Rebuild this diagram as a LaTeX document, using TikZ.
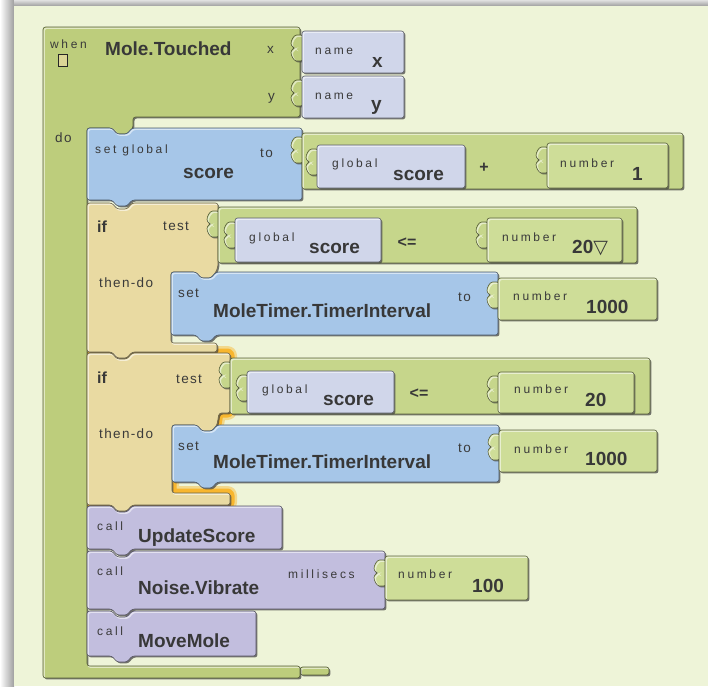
\documentclass[tikz,border=0pt]{standalone}
\usepackage{fontspec}
\setmainfont{Liberation Sans}
\newfontfamily\lblfont{Liberation Sans}[LetterSpace=22]
\newfontfamily\kwfont{Liberation Sans}[LetterSpace=10]
\newfontfamily\symfont{DejaVu Sans}

\definecolor{panel}{RGB}{238,244,216}
\definecolor{evgreen}{RGB}{189,205,124}
\definecolor{opgreen}{RGB}{198,214,139}
\definecolor{numgreen}{RGB}{206,221,152}
\definecolor{lav}{RGB}{208,214,234}
\definecolor{setblue}{RGB}{166,198,232}
\definecolor{iftan}{RGB}{233,218,162}
\definecolor{callpur}{RGB}{194,190,222}
\definecolor{hilite}{RGB}{248,182,46}
\definecolor{txtdark}{RGB}{56,56,56}
\definecolor{txtgray}{RGB}{58,58,58}
\definecolor{shadowc}{RGB}{60,60,60}

% a bevelled block: drop shadow, fill, inner highlight, outline
\newcommand\blk[2]{%
  \fill[shadowc,opacity=.7,shift={(1.4,1.4)}] #2;
  \fill[#1] #2;
  \begin{scope}
    \clip #2;
    \draw[white,opacity=.55,line width=1.5,shift={(1.2,1.2)}] #2;
  \end{scope}
  \draw[#1!45!black,line width=.6] #2;
}
% statement block with top notch and bottom tab: colour, left, top, right, bottom
\newcommand\stmt[5]{\blk{#1}{(#2,#3) -- (#2+25,#3) -- (#2+30,#3+6) -- (#2+40,#3+6) -- (#2+45,#3) -- (#4,#3) -- (#4,#5) -- (#2+45,#5) -- (#2+40,#5+6) -- (#2+30,#5+6) -- (#2+25,#5) -- (#2,#5) -- cycle}}
% plain value block: colour, left, top, right, bottom
\newcommand\valblk[5]{\blk{#1}{(#2,#3) -- (#4,#3) -- (#4,#5) -- (#2,#5) -- cycle}}
% jigsaw plug on the left edge of a value block: colour, x, middle y
\newcommand\plugtab[3]{\blk{#1}{(#2+1,#3-13) -- (#2-3,#3-13) .. controls (#2-8,#3-13) and (#2-11,#3-8) .. (#2-11,#3-2) -- (#2-7,#3) -- (#2-11,#3+2) .. controls (#2-11,#3+8) and (#2-8,#3+13) .. (#2-3,#3+13) -- (#2+1,#3+13) -- cycle}}

\begin{document}
\begin{tikzpicture}[x=1pt,y=-1pt,
  lbl/.style={font=\lblfont\fontsize{12}{14}\selectfont,text=txtgray,anchor=base west,inner sep=0pt},
  kw/.style={font=\kwfont\fontsize{13.5}{15}\selectfont,text=txtgray,anchor=base west,inner sep=0pt},
  big/.style={font=\bfseries\fontsize{19}{21}\selectfont,text=txtdark,anchor=base west,inner sep=0pt},
  iflbl/.style={font=\bfseries\fontsize{16}{18}\selectfont,text=txtdark,anchor=base west,inner sep=0pt},
  op/.style={font=\bfseries\fontsize{16}{18}\selectfont,text=txtdark,inner sep=0pt}]
\useasboundingbox (0,0) rectangle (708,686);

% workspace with its frame shadow
\fill[white] (0,0) rectangle (708,686);
\shade[left color=white,right color=black!38] (0,0) rectangle (14,686);
\shade[top color=black!12,bottom color=black!38] (14,0) rectangle (708,6);
\fill[panel] (14,6) rectangle (708,686);

\begin{scope}[rounded corners=2.5pt]
% selection glow round the second if block
\draw[hilite,opacity=.45,line width=14,line join=round] (87,353) -- (230,353) -- (230,413) -- (219,413) -- (217,425) -- (172,425) -- (172,493) -- (230,493) -- (230,505) -- (87,505) -- cycle;
\draw[hilite,line width=9,line join=round] (87,353) -- (230,353) -- (230,413) -- (219,413) -- (217,425) -- (172,425) -- (172,493) -- (230,493) -- (230,505) -- (87,505) -- cycle;

% event block
\blk{evgreen}{(300,667) -- (329,667) -- (329,675) -- (300,675) -- cycle}
\blk{evgreen}{(43,27) -- (300,27) -- (300,117) -- (133,117) -- (133,128) -- (127,134) -- (117,134) -- (112,128) -- (87,128) -- (87,666) -- (300,666) -- (300,678) -- (43,678) -- cycle}
\draw[black!85,fill=iftan!70!evgreen,line width=.8,sharp corners] (58,54) rectangle (67,66);

% parameters
\plugtab{evgreen}{302}{48}
\valblk{lav}{302}{31}{404}{73}
\plugtab{evgreen}{302}{93}
\valblk{lav}{302}{76}{404}{118}

% set global score to score + 1
\stmt{setblue}{87}{128}{302}{200}
\plugtab{opgreen}{302}{150}
\valblk{opgreen}{302}{133}{683}{189}
\plugtab{opgreen}{317}{162}
\valblk{lav}{317}{145}{465}{188}
\plugtab{opgreen}{547}{160}
\valblk{numgreen}{547}{143}{668}{188}

% first if
\blk{iftan}{(87,203) -- (112,203) -- (117,209) -- (127,209) -- (132,203) -- (218,203) -- (218,266) -- (216,272) -- (211,278) -- (201,278) -- (196,272) -- (171,272) -- (171,343) -- (217,343) -- (217,352) -- (132,352) -- (127,358) -- (117,358) -- (112,352) -- (87,352) -- cycle}
\plugtab{opgreen}{218}{224}
\valblk{opgreen}{218}{207}{637}{263}
\plugtab{opgreen}{235}{235}
\valblk{lav}{235}{218}{381}{262}
\plugtab{opgreen}{487}{235}
\valblk{numgreen}{487}{218}{622}{262}
\stmt{setblue}{171}{272}{498}{335}
\plugtab{numgreen}{498}{295}
\valblk{numgreen}{498}{278}{657}{320}

% second if
\blk{iftan}{(87,353) -- (112,353) -- (117,359) -- (127,359) -- (132,353) -- (230,353) -- (230,413) -- (219,413) -- (217,425) -- (212,431) -- (202,431) -- (197,425) -- (172,425) -- (172,493) -- (230,493) -- (230,505) -- (132,505) -- (127,511) -- (117,511) -- (112,505) -- (87,505) -- cycle}
\plugtab{opgreen}{230}{375}
\valblk{opgreen}{230}{358}{650}{414}
\plugtab{opgreen}{247}{388}
\valblk{lav}{247}{371}{394}{413}
\plugtab{opgreen}{498}{389}
\valblk{numgreen}{498}{372}{634}{413}
\stmt{setblue}{172}{425}{499}{482}
\plugtab{numgreen}{499}{447}
\valblk{numgreen}{499}{430}{657}{472}

% procedure calls
\stmt{callpur}{87}{506}{282}{549}
\stmt{callpur}{87}{551}{385}{609}
\plugtab{numgreen}{385}{573}
\valblk{numgreen}{385}{556}{528}{600}
\stmt{callpur}{87}{611}{256}{656}
\end{scope}

% texts
\node[lbl] (whenlbl) at (50,48) {when};
\node[big] (evname) at (105,55) {Mole.Touched};
\node[kw] (xarg) at (267,53) {x};
\node[kw] (yarg) at (268,100) {y};
\node[lbl] (namea) at (315,54) {name};
\node[big] (xval) at (372,67) {x};
\node[lbl] (nameb) at (315,99) {name};
\node[big] (yval) at (371,110) {y};
\node[kw] (dolbl) at (55,142) {do};

\node[lbl] (setglob) at (95,153) {set global};
\node[big] (scorea) at (183,178) {score};
\node[kw] (toa) at (260,157) {to};
\node[lbl] (globa) at (332,167) {global};
\node[big] (scoreb) at (393,180) {score};
\node[op] (plus) at (484,168) {+};
\node[lbl] (numa) at (560,167) {number};
\node[big] (one) at (632,180) {1};

\node[iflbl] (ifa) at (97,232) {if};
\node[kw] (testa) at (163,230) {test};
\node[kw] (thena) at (99,287) {then-do};
\node[lbl] (globb) at (249,241) {global};
\node[big] (scorec) at (309,253) {score};
\node[op] (lea) at (407,243) {<=};
\node[lbl] (numb) at (502,241) {number};
\node[big] (twentya) at (572,253) {20{\symfont\mdseries ▽}};
\node[kw] (seta) at (178,297) {set};
\node[big] (timera) at (213,317) {MoleTimer.TimerInterval};
\node[kw] (tob) at (458,301) {to};
\node[lbl] (numc) at (513,300) {number};
\node[big] (thousanda) at (586,313) {1000};

\node[iflbl] (ifb) at (97,383) {if};
\node[kw] (testb) at (176,383) {test};
\node[kw] (thenb) at (99,438) {then-do};
\node[lbl] (globc) at (262,393) {global};
\node[big] (scored) at (323,405) {score};
\node[op] (leb) at (419,394) {<=};
\node[lbl] (numd) at (514,393) {number};
\node[big] (twentyb) at (585,406) {20};
\node[kw] (setb) at (178,450) {set};
\node[big] (timerb) at (213,468) {MoleTimer.TimerInterval};
\node[kw] (toc) at (458,452) {to};
\node[lbl] (nume) at (514,453) {number};
\node[big] (thousandb) at (585,465) {1000};

\node[lbl] (calla) at (97,530) {call};
\node[big] (update) at (138,542) {UpdateScore};
\node[lbl] (callb) at (97,575) {call};
\node[big] (vibrate) at (138,594) {Noise.Vibrate};
\node[lbl] (msecs) at (288,578) {millisecs};
\node[lbl] (numf) at (398,578) {number};
\node[big] (hundred) at (472,592) {100};
\node[lbl] (callc) at (97,635) {call};
\node[big] (movemole) at (138,647) {MoveMole};
\end{tikzpicture}
\end{document}
